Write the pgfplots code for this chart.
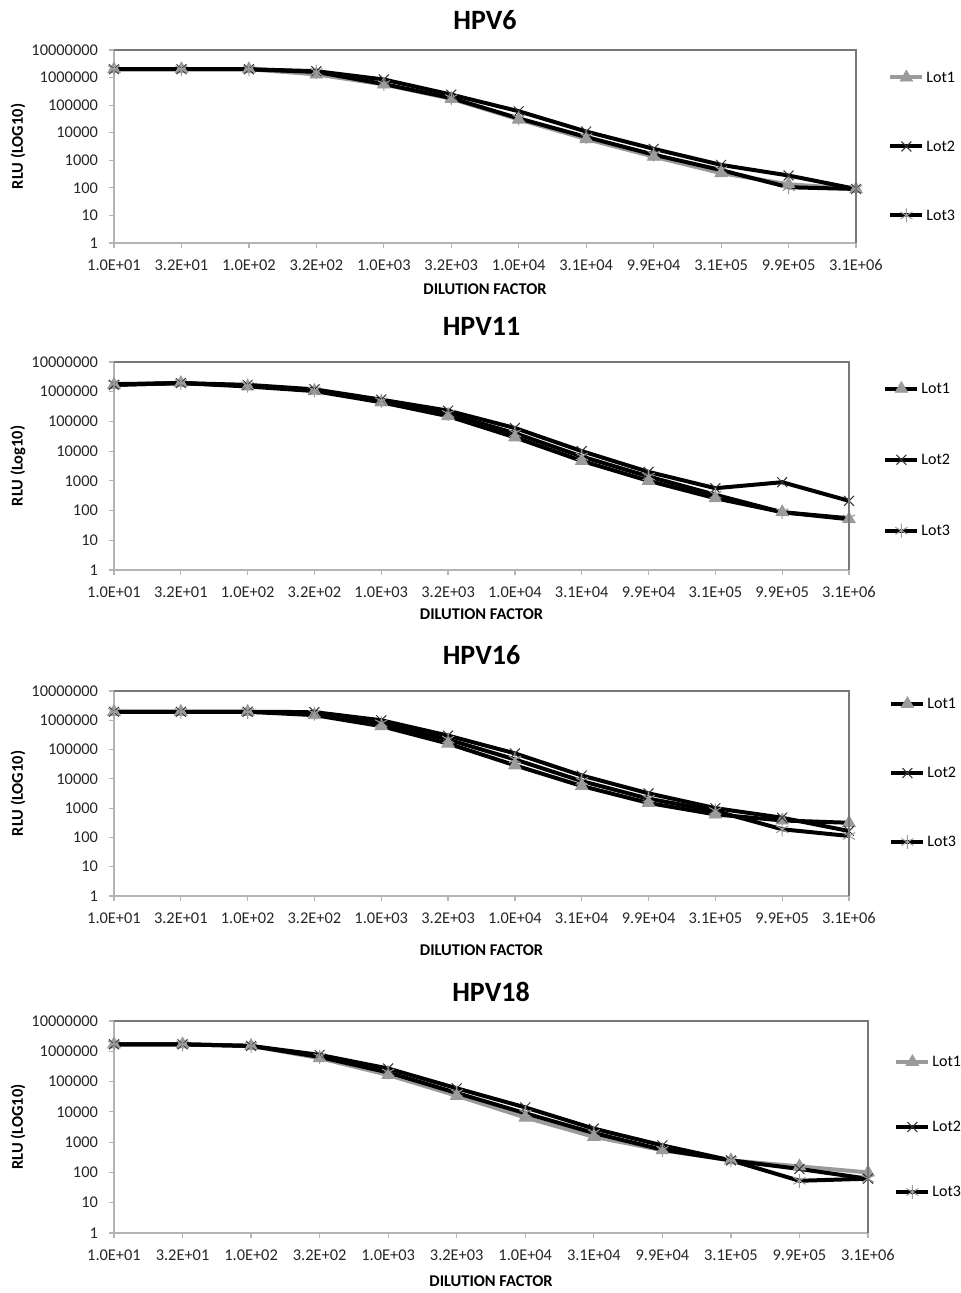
\documentclass[border=0pt]{standalone}
\usepackage{fontspec}
\setmainfont{Carlito}
\usepackage{pgfplots}
\usepackage{pgfplotstable}
\pgfplotsset{compat=1.18}

\definecolor{lotgray}{RGB}{155,155,155}
\definecolor{axlight}{RGB}{180,180,180}
\definecolor{axdark}{RGB}{120,120,120}

% columns: dilution step, Lot1, Lot2, Lot3
\pgfplotstableread{
x L1 L2 L3
0 2.0e6 2.0e6 2.0e6
1 2.0e6 2.0e6 2.0e6
2 2.0e6 2.0e6 2.0e6
3 1.3e6 1.7e6 1.6e6
4 5.6e5 8.5e5 5.8e5
5 1.7e5 2.4e5 1.8e5
6 3.0e4 6.0e4 3.3e4
7 5.9e3 1.1e4 7.0e3
8 1.35e3 2.6e3 1.6e3
9 3.4e2 6.8e2 4.4e2
10 1.35e2 2.8e2 1.05e2
11 9.1e1 9.1e1 9.1e1
}\hpvsix

\pgfplotstableread{
x L1 L2 L3
0 1.7e6 1.7e6 1.8e6
1 1.95e6 1.95e6 1.95e6
2 1.5e6 1.7e6 1.6e6
3 1.05e6 1.2e6 1.1e6
4 4.4e5 5.4e5 4.8e5
5 1.5e5 2.3e5 1.8e5
6 2.9e4 6.0e4 4.0e4
7 4.7e3 1.0e4 6.6e3
8 1.0e3 2.0e3 1.4e3
9 2.6e2 5.65e2 3.4e2
10 8.8e1 9.0e2 8.8e1
11 5.1e1 2.12e2 5.5e1
}\hpveleven

\pgfplotstableread{
x L1 L2 L3
0 1.95e6 1.95e6 1.95e6
1 1.95e6 1.95e6 1.95e6
2 1.95e6 1.95e6 1.95e6
3 1.5e6 1.9e6 1.7e6
4 6.3e5 1.0e6 7.9e5
5 1.6e5 3.0e5 2.2e5
6 2.9e4 7.4e4 4.6e4
7 5.7e3 1.3e4 8.4e3
8 1.5e3 3.2e3 2.1e3
9 6.1e2 1.0e3 8.0e2
10 3.8e2 4.7e2 1.9e2
11 3.16e2 1.65e2 1.12e2
}\hpvsixteen

\pgfplotstableread{
x L1 L2 L3
0 1.7e6 1.7e6 1.7e6
1 1.7e6 1.7e6 1.7e6
2 1.5e6 1.5e6 1.5e6
3 5.9e5 7.6e5 6.5e5
4 1.65e5 2.7e5 2.0e5
5 3.4e4 6.0e4 4.2e4
6 6.5e3 1.4e4 9.0e3
7 1.5e3 2.8e3 2.0e3
8 5.4e2 7.8e2 5.6e2
9 2.5e2 2.5e2 2.5e2
10 1.58e2 1.3e2 5.3e1
11 1.0e2 6.2e1 6.2e1
}\hpveighteen

\pgfplotsset{
  every axis/.append style={
    scale only axis, anchor=south west,
    ymin=1, ymax=1e7,
    xmin=0, xmax=11, enlargelimits=false, clip=false,
    xtick={0,...,11},
    xticklabels={1.0E+01,3.2E+01,1.0E+02,3.2E+02,1.0E+03,3.2E+03,1.0E+04,3.1E+04,9.9E+04,3.1E+05,9.9E+05,3.1E+06},
    ytick={1,10,100,1000,10000,100000,1000000,10000000},
    yticklabels={1,10,100,1000,10000,100000,1000000,10000000},
    minor ytick={}, minor tick length=0pt,
    minor tick style={draw=none},
    tick align=outside, xtick pos=bottom, ytick pos=left,
    major tick length=2.5pt,
    tick style={draw=axlight, line width=0.6pt},
    axis line style={draw=axlight, line width=0.6pt},
    ticklabel style={font=\fontsize{8.2}{9}\selectfont, text=black!85},
    xticklabel style={anchor=north, text height=6pt, text depth=1.5pt},
    xticklabel shift=1.5pt,
    yticklabel shift=2pt,
    /pgf/number format/assume math mode=true,
    title style={font=\fontsize{14}{16}\selectfont\bfseries, anchor=center},
    label style={font=\fontsize{8.2}{9}\selectfont\bfseries},
    xlabel={DILUTION FACTOR},
    legend cell align=left,
    legend style={draw=none, fill=none, inner sep=0pt, anchor=west,
      font=\fontsize{8}{9}\selectfont,
      nodes={inner sep=1pt, text height=6pt, text depth=1pt}},
    legend image code/.code={\draw[mark repeat=2, mark phase=2, ##1]
      plot coordinates {(0pt,0pt) (8pt,0pt) (16pt,0pt)};},
    after end axis/.code={\draw[axdark, line width=0.6pt]
      (rel axis cs:0,1) -- (rel axis cs:1,1) -- (rel axis cs:1,0);},
  },
  lotonegray/.style={draw=lotgray, line width=2pt, mark=triangle*,
    mark size=3.6pt, mark options={fill=lotgray, draw=lotgray, line width=0.4pt}},
  lotoneblack/.style={draw=black, line width=2pt, mark=triangle*,
    mark size=3.6pt, mark options={fill=lotgray, draw=lotgray, line width=0.4pt}},
  lottwo/.style={draw=black, line width=2pt, mark=x, mark size=3.5pt,
    mark options={draw=black!80, line width=0.5pt}},
  lotthree/.style={draw=black, line width=2pt, mark=asterisk, mark size=3.5pt,
    mark options={draw=lotgray, line width=0.5pt}},
}

\begin{document}
\begin{tikzpicture}
\path[use as bounding box] (0,0) rectangle (480.5pt,646.5pt);

% HPV6
\begin{semilogyaxis}[at={(57pt,525pt)}, width=371pt, height=96.5pt,
  title={HPV6}, title style={at={([yshift=9pt]axis description cs:0.5,1)}},
  xlabel style={at={([yshift=-23pt]axis description cs:0.5,0)}, anchor=center},
  ylabel={RLU (LOG10)},
  ylabel style={at={([xshift=-48pt]axis description cs:0,0.5)}, anchor=center},
  legend style={at={([xshift=16pt]axis description cs:1,0.5)}, row sep=25.5pt}]
\addplot[lotonegray] table[x=x, y=L1] {\hpvsix};
\addplot[lottwo] table[x=x, y=L2] {\hpvsix};
\addplot[lotthree] table[x=x, y=L3] {\hpvsix};
\legend{Lot1,Lot2,Lot3}
\end{semilogyaxis}

% HPV11
\begin{semilogyaxis}[at={(57pt,361.5pt)}, width=367.5pt, height=104pt,
  title={HPV11}, title style={at={([yshift=12pt]axis description cs:0.5,1)}},
  xlabel style={at={([yshift=-22pt]axis description cs:0.5,0)}, anchor=center},
  ylabel={RLU (Log10)},
  ylabel style={at={([xshift=-48pt]axis description cs:0,0.5)}, anchor=center},
  legend style={at={([xshift=17pt]axis description cs:1,0.53)}, row sep=26.5pt}]
\addplot[lotoneblack] table[x=x, y=L1] {\hpveleven};
\addplot[lottwo] table[x=x, y=L2] {\hpveleven};
\addplot[lotthree] table[x=x, y=L3] {\hpveleven};
\legend{Lot1,Lot2,Lot3}
\end{semilogyaxis}

% HPV16
\begin{semilogyaxis}[at={(57pt,198.5pt)}, width=367.5pt, height=102.5pt,
  title={HPV16}, title style={at={([yshift=12pt]axis description cs:0.5,1)}},
  xlabel style={at={([yshift=-27pt]axis description cs:0.5,0)}, anchor=center},
  ylabel={RLU (LOG10)},
  ylabel style={at={([xshift=-48pt]axis description cs:0,0.5)}, anchor=center},
  legend style={at={([xshift=20pt]axis description cs:1,0.6)}, row sep=25.5pt}]
\addplot[lotoneblack] table[x=x, y=L1] {\hpvsixteen};
\addplot[lottwo] table[x=x, y=L2] {\hpvsixteen};
\addplot[lotthree] table[x=x, y=L3] {\hpvsixteen};
\legend{Lot1,Lot2,Lot3}
\end{semilogyaxis}

% HPV18
\begin{semilogyaxis}[at={(57pt,30pt)}, width=377pt, height=106pt,
  title={HPV18}, title style={at={([yshift=8.5pt]axis description cs:0.5,1)}},
  xlabel style={at={([yshift=-24pt]axis description cs:0.5,0)}, anchor=center},
  ylabel={RLU (LOG10)},
  ylabel style={at={([xshift=-48pt]axis description cs:0,0.5)}, anchor=center},
  legend style={at={([xshift=13pt]axis description cs:1,0.5)}, row sep=23.5pt}]
\addplot[lotonegray] table[x=x, y=L1] {\hpveighteen};
\addplot[lottwo] table[x=x, y=L2] {\hpveighteen};
\addplot[lotthree] table[x=x, y=L3] {\hpveighteen};
\legend{Lot1,Lot2,Lot3}
\end{semilogyaxis}
\end{tikzpicture}
\end{document}
